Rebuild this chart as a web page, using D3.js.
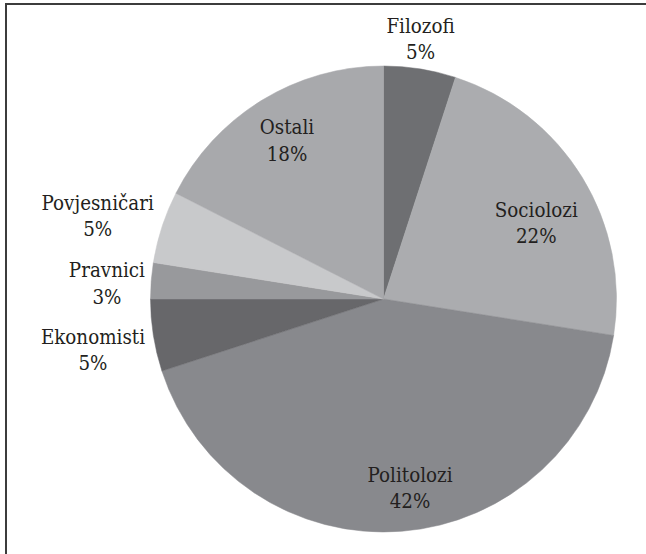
<!DOCTYPE html>
<html>
<head>
<meta charset="utf-8">
<script src="https://cdn.jsdelivr.net/npm/d3@7"></script>
<style>
  html, body { margin: 0; padding: 0; background: #fff; }
  svg { display: block; }
</style>
</head>
<body>
<script>
// chart data (counts; shares)
var categories = ["Filozofi", "Sociolozi", "Politolozi", "Ekonomisti", "Pravnici", "Povjesničari", "Ostali"];
var counts = [2, 9, 17, 2, 1, 2, 7];
var percentLabels = ["5%", "22%", "42%", "5%", "3%", "5%", "18%"];
var sliceColors = ["#6e6f72", "#abacaf", "#88898d", "#67676a", "#98999c", "#c8c9cb", "#a8a9ac"];

// label placement, as in the original (radius factor along mid angle + small nudge)
var labelRadius = [1.127, 0.734, 0.817, 1.266, 1.189, 1.279, 0.799];
var labelNudge = [[-4, -1], [7, 13], [11.6, -1.3], [0.8, 4.6], [-0.4, 5.5], [-2.4, 8.4], [0.8, -0.5]];

var width = 646, height = 554;
var cx = 383.5, cy = 299, r = 233;
var fontSize = 21, lineGap = 26.5;
var textScaleX = 0.97;   // condensed serif, nudged toward Times widths
var serif = "'DejaVu Serif Condensed', 'DejaVu Serif', serif";

var svg = d3.select("body").append("svg")
    .attr("width", width)
    .attr("height", height);

// frame (only top and left edges are visible in the picture)
svg.append("line")
    .attr("x1", 5).attr("y1", 4).attr("x2", width).attr("y2", 4)
    .attr("stroke", "#3c3c3c").attr("stroke-width", 2);
svg.append("line")
    .attr("x1", 6).attr("y1", 3).attr("x2", 6).attr("y2", height)
    .attr("stroke", "#3c3c3c").attr("stroke-width", 2);

var data = categories.map(function (c, i) {
    return { name: c, value: counts[i], pct: percentLabels[i], color: sliceColors[i], i: i };
});

var pie = d3.pie()
    .value(function (d) { return d.value; })
    .sort(null);

var arc = d3.arc().innerRadius(0).outerRadius(r);

var g = svg.append("g").attr("transform", "translate(" + cx + "," + cy + ")");

var arcs = pie(data);

g.selectAll("path.slice")
    .data(arcs)
    .enter()
    .append("path")
    .attr("class", "slice")
    .attr("d", arc)
    .attr("fill", function (d) { return d.data.color; })
    .attr("stroke", function (d) { return d.data.color; })
    .attr("stroke-width", 0.5);

var labels = g.selectAll("g.label")
    .data(arcs)
    .enter()
    .append("g")
    .attr("class", "label")
    .attr("transform", function (d) {
        var rr = r * labelRadius[d.data.i];
        var c = d3.arc().innerRadius(rr).outerRadius(rr).centroid(d);
        var n = labelNudge[d.data.i];
        return "translate(" + (c[0] + n[0]) + "," + (c[1] + n[1]) + ") scale(" + textScaleX + ",1)";
    });

labels.append("text")
    .attr("text-anchor", "middle")
    .style("font-family", serif)
    .attr("font-size", fontSize)
    .attr("fill", "#231f20")
    .attr("y", -5.75)
    .text(function (d) { return d.data.name; });

labels.append("text")
    .attr("text-anchor", "middle")
    .style("font-family", serif)
    .attr("font-size", fontSize)
    .attr("fill", "#231f20")
    .attr("y", -5.75 + lineGap)
    .text(function (d) { return d.data.pct; });
</script>
</body>
</html>
